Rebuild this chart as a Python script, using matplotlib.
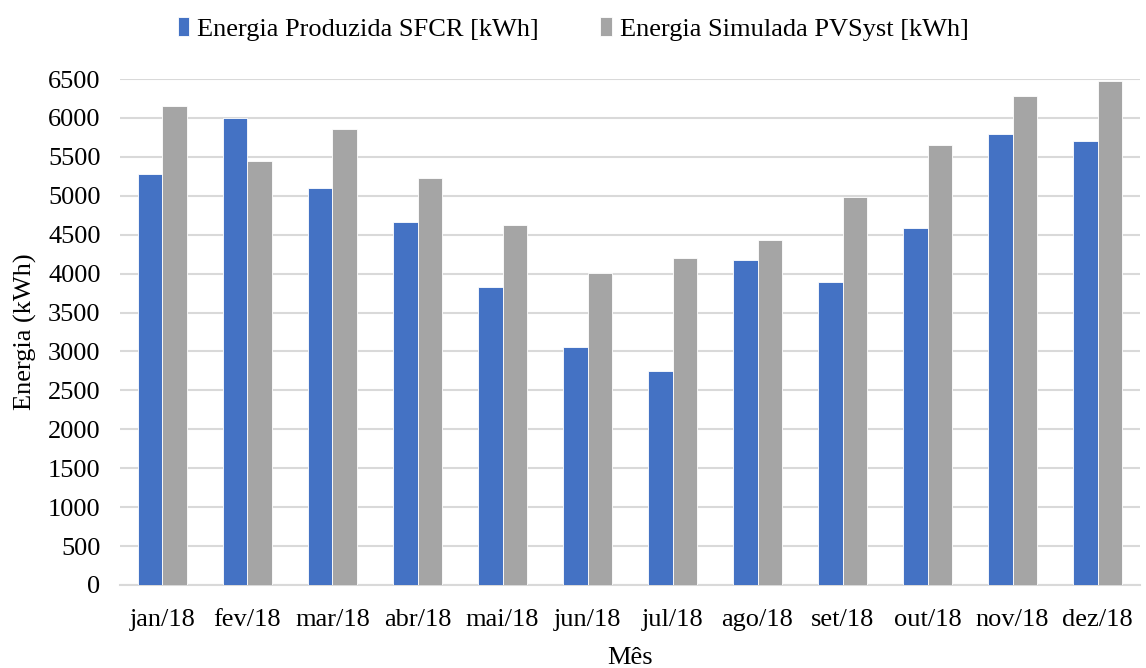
import matplotlib
matplotlib.use("Agg")
import matplotlib.pyplot as plt
import numpy as np

plt.rcParams['font.family'] = ['Liberation Serif', 'DejaVu Serif']

meses = ["jan/18", "fev/18", "mar/18", "abr/18", "mai/18", "jun/18",
         "jul/18", "ago/18", "set/18", "out/18", "nov/18", "dez/18"]
produzida = [5285, 5995, 5106, 4668, 3825, 3055, 2748, 4172, 3890, 4587, 5792, 5702]
simulada = [6158, 5442, 5862, 5224, 4625, 4005, 4197, 4428, 4985, 5647, 6283, 6472]
yticks = list(range(0, 6501, 500))

FS = 19

fig = plt.figure(figsize=(11.46, 6.68), dpi=100)
ax = fig.add_axes([0.1047, 0.1243, 0.8901, 0.7574])

x = np.arange(len(meses))
w = 0.29
b1 = ax.bar(x - w/2, produzida, width=w, color="#4472C4", edgecolor="white", linewidth=0.6,
            label="Energia Produzida SFCR [kWh]", zorder=3)
b2 = ax.bar(x + w/2, simulada, width=w, color="#A5A5A5", edgecolor="white", linewidth=0.6,
            label="Energia Simulada PVSyst [kWh]", zorder=3)

ax.set_xlim(-0.5, len(meses) - 0.5)
ax.set_ylim(0, 6500)
ax.set_yticks(yticks)
ax.set_xticks(x)
ax.set_xticklabels(meses)
ax.tick_params(axis='both', length=0, labelsize=FS, colors='black')
ax.tick_params(axis='x', pad=17)
ax.tick_params(axis='y', pad=14)
ax.yaxis.grid(True, color="#D9D9D9", linewidth=1.5, zorder=0)
ax.set_axisbelow(True)
for s in ["top", "right", "left"]:
    ax.spines[s].set_visible(False)
ax.spines["bottom"].set_color("#D9D9D9")
ax.spines["bottom"].set_linewidth(1.5)

ax.set_ylabel("Energia (kWh)", fontsize=FS, labelpad=8)
ax.set_xlabel("Mês", fontsize=FS, labelpad=12)

fig.legend(handles=[b1, b2], loc="upper center", bbox_to_anchor=(0.5, 1.01), ncol=2,
           frameon=False, fontsize=FS, handlelength=0.45, handleheight=0.75,
           handletextpad=0.3, columnspacing=2.3)

fig.savefig("out.png", dpi=100)
